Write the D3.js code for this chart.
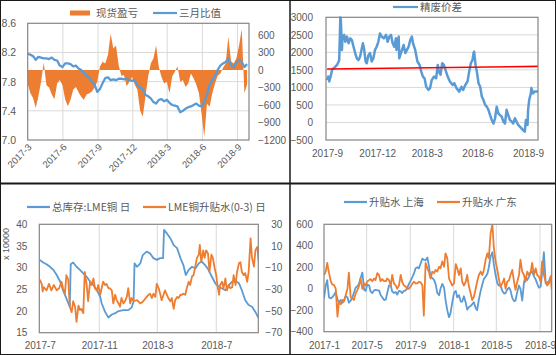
<!DOCTYPE html>
<html><head><meta charset="utf-8">
<script src="https://cdn.jsdelivr.net/npm/d3@7"></script>
<style>
body{margin:0;background:#fff;}
svg{display:block;font-family:"Liberation Sans","Noto Sans CJK SC",sans-serif;}
</style></head><body>
<svg id="c" width="556" height="355"></svg>
<script>
// ---------- Panel 1: 现货盈亏 / 三月比值 (weekly, days since start) ----------
const p1Start = "2017-03-01";
const p1Days = [0,7,14,21,28,35,42,49,56,63,70,77,84,91,98,105,112,119,126,133,140,147,154,161,168,175,182,189,196,203,210,217,224,231,238,245,252,259,266,273,280,287,294,301,308,315,322,329,336,343,350,357,364,371,378,385,392,399,406,413,420,427,434,441,448,455,462,469,476,483,490,497,504,511,518,525,532,539,546,553,560,567,574];
const ratioValues = [8.18,8.17,8.15,8.10,8.14,8.13,8.12,8.12,8.11,8.13,
 8.10,8.09,8.02,8.00,8.05,8.05,8.04,8.01,8.02,7.98,
 7.96,7.92,7.88,7.86,7.80,7.76,7.66,7.70,7.78,7.85,
 7.86,7.82,7.83,7.82,7.84,7.84,7.83,7.84,7.82,7.81,
 7.82,7.75,7.72,7.69,7.62,7.60,7.57,7.52,7.50,7.55,
 7.56,7.53,7.55,7.51,7.48,7.47,7.46,7.38,7.40,7.43,
 7.45,7.46,7.48,7.50,7.47,7.46,7.52,7.62,7.76,7.82,
 7.88,7.96,8.02,8.05,8.07,8.12,8.02,8.00,8.06,8.10,
 8.07,8.00,8.04];
const pnlValues = [-230,-400,-480,-650,-450,-200,130,-260,-300,-420,
 -500,-230,-170,-260,-500,-620,-510,-340,-290,-380,
 -460,-510,-420,-400,-370,-300,-200,60,140,110,
 260,620,370,420,80,-100,-90,-280,-200,-120,
 -250,-340,-690,-800,-460,-120,110,200,420,50,
 -120,-230,-200,-400,-110,-30,60,-200,-170,-290,
 -230,-60,-140,-250,-400,-750,-1150,-580,-630,-400,
 -230,-100,-60,40,110,570,150,110,200,420,
 700,-400,-250];
const p1LeftTicks = [7.0,7.4,7.8,8.2,8.6];
const p1RightTicks = [-1200,-900,-600,-300,0,300,600];

// ---------- Panel 2: 精废价差 ----------
const p2Start = "2017-09-01";
const p2Days = [0,2,4,7,9,12,15,18,21,22,24,25,27,28,31,33,36,39,42,45,48,51,54,57,60,65,67,70,72,75,78,81,84,87,90,93,96,99,103,107,110,113,116,119,122,125,126,130,131,134,139,142,145,148,151,154,156,160,164,168,171,174,177,180,184,187,190,194,198,201,203,206,209,212,216,219,223,228,231,235,240,244,247,251,255,258,261,264,266,267,270,272,275,278,281,284,287,290,293,296,299,302,305,308,311,314,317,320,323,326,329,332,335,338,341,344,347,350,353,356,359,361,364,365,367,370,371,374,377,383];
const spreadValues = [1210,1310,1170,1350,1500,1550,1590,1640,1740,1780,3000,2920,2070,2450,2500,2300,2450,2260,2400,2350,2160,1980,1830,1780,1880,2260,2120,1740,1690,1920,1980,1740,1830,2070,2160,2300,2540,2450,2400,2500,2300,2450,2500,2260,2160,2400,2070,2450,1830,1980,2210,1980,2070,2160,2350,2450,2260,2070,1740,1640,1450,1310,1260,1020,930,980,1210,1310,1260,1640,1450,1360,1690,1640,1450,1310,1170,1070,1120,980,880,1020,930,1070,1170,1450,1690,1780,1980,2020,1590,1450,1120,1020,740,640,500,450,360,210,70,-30,120,450,260,210,170,30,-30,360,210,70,30,-30,120,30,-70,-120,-170,-220,-260,70,-70,360,640,830,980,830,880,880];
const trendStart = 1525, trendEnd = 1600;
const p2Ticks = [-500,0,500,1000,1500,2000,2500,3000];

// ---------- Panel 3: LME ----------
const p3Start = "2017-07-01";
const stockDays = [0,7,14,21,28,35,42,48,55,59,62,64,69,76,83,90,97,104,111,118,125,128,135,142,149,156,163,173,183,190,194,196,201,208,213,221,228,235,242,249,255,257,263,270,277,284,291,297,302,308,315,322,329,335,342,349,356,363,370,377,384,391,398,405,412,418,425,432,439,446,452];
const stockValues = [31.8,31.2,30.8,30.2,29.5,28.3,26.8,24.8,22.9,21.8,21.0,30.8,31.2,30.2,29.5,28.7,27.9,26.8,26.0,24.8,23.3,21.8,19.8,18.5,19.2,19.5,20.0,20.2,20.2,20.8,22.2,31.0,30.2,31.0,32.9,33.7,33.3,32.2,31.8,32.2,32.2,38.7,37.9,36.8,35.2,34.5,32.2,30.6,28.3,29.5,30.2,29.8,31.0,31.4,30.6,29.5,27.9,26.4,25.6,25.2,24.8,26.0,26.8,26.9,26.4,24.8,22.5,21.4,21.0,19.8,18.5];
const lmeDays = [0,4,6,8,14,19,24,29,35,40,45,48,52,55,59,62,66,69,73,76,80,83,86,90,93,97,100,104,107,111,114,118,121,125,128,131,135,138,142,145,149,152,156,159,163,166,169,173,176,180,183,187,190,194,201,208,214,221,225,228,232,235,239,242,246,249,252,256,259,263,266,270,273,277,280,284,287,291,294,297,301,304,308,311,315,318,322,325,329,331,334,338,341,344,348,351,355,358,362,365,368,371,373,377,380,384,387,391,394,398,401,405,408,412,415,418,422,425,429,432,436,439,443,446,450,453];
const lmeValues = [-21,-25,-32,-28,-31,-25,-31,-26,-31,-29,-23,-29,-34,-17,-21,-46,-51,-41,-46,-60,-45,-49,-48,-52,-14,-26,-41,-23,-26,-20,-29,-31,-26,-35,-29,-23,-26,-25,-29,-29,-31,-43,-35,-40,-43,-46,-38,-43,-41,-37,-29,-43,-38,-41,-40,-43,-41,-37,-35,-34,-38,-34,-37,-25,-29,-34,-40,-35,-31,-35,-38,-41,-38,-48,-40,-37,-38,-35,-35,-34,-35,-29,-23,-26,-18,-17,-8,-1,2,11,-5,6,-1,6,3,-14,2,-1,-11,-17,-28,-35,-26,-23,-29,-20,-31,-26,-29,-28,-17,-26,-14,-6,-5,-14,-17,-15,-23,-14,17,-1,-9,6,9,-5];
const p3LeftTicks = [15,20,25,30,35,40];
const p3RightTicks = [-70,-50,-30,-10,10,30];

// ---------- Panel 4: 升贴水 上海 / 广东 ----------
const p4Start = "2017-01-01";
const p4Days = [0,5,9,14,19,23,28,33,38,42,47,52,56,61,66,70,75,80,84,89,94,98,103,108,113,117,122,127,131,136,141,145,150,155,159,164,169,174,178,183,188,192,197,202,206,211,216,220,225,230,235,239,244,249,253,258,263,267,272,277,281,286,291,295,300,305,310,314,319,324,328,333,338,342,347,352,356,361,366,371,375,380,385,389,394,399,403,408,413,417,422,427,431,436,441,446,450,455,460,464,469,474,478,483,488,492,497,502,507,511,516,521,525,530,535,539,544,549,553,558,563,567,572,577,582,586,591,596,600,605,610,614,619,624,628,633,638,641];
const shanghaiValues = [-90,30,80,-80,-90,-80,-60,-30,-100,-130,
 -105,-130,-110,-70,-80,-130,-110,-80,-40,10,
 25,40,100,150,-10,-20,40,30,-25,-40,
 -15,-10,-15,-15,-55,-80,-105,-100,-40,30,
 30,-25,-40,-30,-55,-20,-25,-40,-20,-15,
 10,45,75,110,140,190,200,190,235,280,
 270,265,290,220,110,100,80,45,-40,-60,
 0,45,10,-100,-200,-265,-230,-130,-40,-20,
 -80,-60,-120,-120,-70,-130,-195,-170,-160,-145,
 -125,-180,-200,-100,-20,45,90,115,140,200,
 300,340,230,130,50,30,30,-20,-45,-40,
 -5,10,-15,-85,-115,-110,-30,30,0,-110,
 60,110,80,110,150,160,115,85,50,10,
 20,150,340,50,55,70,110,128];
const guangdongValues = [128,160,240,150,70,40,35,0,-260,-120,
 -145,-105,-120,-60,0,150,-75,-90,-105,-45,
 -10,20,95,0,50,30,70,80,90,70,
 95,80,145,128,70,90,70,70,95,80,
 30,128,50,30,0,30,128,65,30,20,
 0,0,20,50,65,50,50,65,60,30,
 -250,240,190,160,95,160,145,175,160,205,
 190,255,205,330,285,95,65,30,50,230,
 190,128,190,65,30,65,128,20,-45,-105,
 -75,0,65,128,160,128,175,270,330,285,
 515,600,390,255,175,95,20,50,95,0,
 65,80,128,175,65,-10,65,128,270,160,
 128,65,160,128,160,240,128,190,128,112,
 65,255,128,65,30,50,112,-10];
const p4Ticks = [-400,-200,0,200,400,600];

// ---------- drawing ----------
const svg = d3.select("#c");
const GRID = "#d9d9d9", FRAME = "#868686", TXT = "#595959", BLUE = "#5b9bd5", ORANGE = "#ed7d31";
const FONT = "'Liberation Sans','Noto Sans CJK SC',sans-serif";
const CJK = "'Noto Sans CJK SC',sans-serif";
const parse = d3.timeParse("%Y-%m-%d");
const at = (start, d) => d3.timeDay.offset(parse(start), d);
const fmtM = d => d.getFullYear() + "-" + (d.getMonth() + 1);
const fmtInt = d3.format("d");
const defs = svg.append("defs");
let clipN = 0;
function clipRect(x0, y0, x1, y1) {
  const id = "clip" + (clipN++);
  defs.append("clipPath").attr("id", id).append("rect")
    .attr("x", x0).attr("y", y0).attr("width", x1 - x0).attr("height", y1 - y0);
  return "url(#" + id + ")";
}
function styleAxis(g, size) {
  g.select(".domain").remove();
  g.selectAll(".tick line").remove();
  g.selectAll("text").attr("fill", TXT).style("font-size", (size || 10) + "px").style("font-family", FONT);
}
function vgrid(xs, ticks, y0, y1) {
  svg.append("g").selectAll("line").data(ticks).join("line")
    .attr("x1", d => xs(d)).attr("x2", d => xs(d)).attr("y1", y0).attr("y2", y1)
    .attr("stroke", GRID).attr("stroke-width", 1);
}
function hgrid(ys, ticks, x0, x1) {
  svg.append("g").selectAll("line").data(ticks).join("line")
    .attr("y1", d => ys(d)).attr("y2", d => ys(d)).attr("x1", x0).attr("x2", x1)
    .attr("stroke", GRID).attr("stroke-width", 1);
}
function frame(x0, y0, x1, y1) {
  svg.append("rect").attr("x", x0).attr("y", y0).attr("width", x1 - x0).attr("height", y1 - y0)
    .attr("fill", "none").attr("stroke", FRAME).attr("stroke-width", 1.2);
}
function legendLine(x, y, color, label, w) {
  svg.append("line").attr("x1", x).attr("x2", x + (w || 24)).attr("y1", y).attr("y2", y)
    .attr("stroke", color).attr("stroke-width", 2.2);
  svg.append("text").attr("x", x + (w || 24) + 2).attr("y", y).attr("dy", "0.35em")
    .attr("fill", TXT).style("font-size", "10.5px").style("font-family", CJK).text(label);
}

// ===== Panel 1 =====
{
  const X0 = 27.7, X1 = 249, Y0 = 23.3, Y1 = 140;
  const xs = d3.scaleTime().domain([parse("2017-03-01"), parse("2018-10-01")]).range([X0, X1]);
  const yl = d3.scaleLinear().domain([7.0, 8.6]).range([Y1, Y0]);
  const yr = d3.scaleLinear().domain([-1200, 800]).range([Y1, Y0]);
  const months = d3.timeMonth.range(parse("2017-03-01"), parse("2018-10-01"), 3);
  hgrid(yl, [7.4, 7.8, 8.2], X0, X1);
  vgrid(xs, months.slice(1), Y0, Y1);
  const data = p1Days.map((d, i) => ({ date: at(p1Start, d), r: ratioValues[i], p: pnlValues[i] }));
  const cp = clipRect(X0, Y0, X1, Y1);
  svg.append("path").datum(data).attr("clip-path", cp)
    .attr("d", d3.area().x(d => xs(d.date)).y0(yr(0)).y1(d => yr(d.p)))
    .attr("fill", ORANGE);
  svg.append("path").datum(data).attr("clip-path", cp)
    .attr("d", d3.line().x(d => xs(d.date)).y(d => yl(d.r)))
    .attr("fill", "none").attr("stroke", BLUE).attr("stroke-width", 2.3).attr("stroke-linejoin", "round");
  frame(X0, Y0, X1, Y1);
  const gl = svg.append("g").attr("transform", `translate(${X0},0)`)
    .call(d3.axisLeft(yl).tickValues(p1LeftTicks).tickSize(0).tickPadding(11.5).tickFormat(d3.format(".1f")));
  styleAxis(gl, 10.5);
  const gr = svg.append("g").attr("transform", `translate(${X1},0)`)
    .call(d3.axisRight(yr).tickValues(p1RightTicks).tickSize(0).tickPadding(9).tickFormat(fmtInt));
  styleAxis(gr, 10);
  const gx = svg.append("g").attr("transform", `translate(0,${Y1})`)
    .call(d3.axisBottom(xs).tickValues(months).tickSize(0).tickFormat(fmtM));
  styleAxis(gx, 9.5);
  gx.selectAll("text").attr("x", -2.5).attr("y", 5).attr("dy", "0.35em")
    .attr("text-anchor", "end").attr("transform", "rotate(-45)");
  // legend
  svg.append("rect").attr("x", 70).attr("y", 10.5).attr("width", 20).attr("height", 5).attr("fill", ORANGE);
  svg.append("text").attr("x", 96).attr("y", 13).attr("dy", "0.35em").attr("fill", TXT)
    .style("font-size", "10.5px").style("font-family", CJK).text("现货盈亏");
  legendLine(153, 13, BLUE, "三月比值");
}

// ===== Panel 2 =====
{
  const X0 = 326, X1 = 538, Y0 = 17.3, Y1 = 140;
  const xs = d3.scaleTime().domain([parse("2017-08-30"), parse("2018-09-19")]).range([X0, X1]);
  const ys = d3.scaleLinear().domain([-500, 3000]).range([Y1, Y0]);
  const months = d3.timeMonth.range(parse("2017-09-01"), parse("2018-09-02"), 3);
  hgrid(ys, [0, 500, 1000, 1500, 2000, 2500], X0, X1);
  const data = p2Days.map((d, i) => ({ date: at(p2Start, d), v: spreadValues[i] }));
  const cp = clipRect(X0, Y0 - 1, X1, Y1);
  svg.append("path").datum(data).attr("clip-path", cp)
    .attr("d", d3.line().x(d => xs(d.date)).y(d => ys(d.v)))
    .attr("fill", "none").attr("stroke", BLUE).attr("stroke-width", 2.5).attr("stroke-linejoin", "round");
  const trend = [{ date: at(p2Start, p2Days[0]), v: trendStart }, { date: at(p2Start, p2Days[p2Days.length - 1]), v: trendEnd }];
  svg.append("path").datum(trend)
    .attr("d", d3.line().x(d => xs(d.date)).y(d => ys(d.v)))
    .attr("stroke", "#ff0000").attr("stroke-width", 1.6).attr("fill", "none");
  frame(X0, Y0, X1, Y1);
  const gl = svg.append("g").attr("transform", `translate(${X0},0)`)
    .call(d3.axisLeft(ys).tickValues(p2Ticks).tickSize(0).tickPadding(13).tickFormat(fmtInt));
  styleAxis(gl, 10);
  const gx = svg.append("g").attr("transform", `translate(0,${Y1})`)
    .call(d3.axisBottom(xs).tickValues(months).tickSize(0).tickPadding(10).tickFormat(fmtM));
  styleAxis(gx, 10);
  legendLine(393, 7, BLUE, "精废价差", 25);
}

// ===== Panel 3 =====
{
  const X0 = 39.3, X1 = 258.3, Y0 = 224.3, Y1 = 332.7;
  const xs = d3.scaleTime().domain([parse("2017-06-30"), parse("2018-09-26")]).range([X0, X1]);
  const yl = d3.scaleLinear().domain([15, 40]).range([Y1, Y0]);
  const yr = d3.scaleLinear().domain([-70, 30]).range([Y1, Y0]);
  const months = d3.timeMonth.range(parse("2017-07-01"), parse("2018-07-02"), 4);
  vgrid(xs, months.slice(1), Y0, Y1);
  const cp = clipRect(X0, Y0, X1, Y1);
  const sdata = stockDays.map((d, i) => ({ date: at(p3Start, d), v: stockValues[i] }));
  const ldata = lmeDays.map((d, i) => ({ date: at(p3Start, d), v: lmeValues[i] }));
  svg.append("path").datum(sdata).attr("clip-path", cp)
    .attr("d", d3.line().x(d => xs(d.date)).y(d => yl(d.v)))
    .attr("fill", "none").attr("stroke", BLUE).attr("stroke-width", 1.8).attr("stroke-linejoin", "round");
  svg.append("path").datum(ldata).attr("clip-path", cp)
    .attr("d", d3.line().x(d => xs(d.date)).y(d => yr(d.v)))
    .attr("fill", "none").attr("stroke", ORANGE).attr("stroke-width", 1.8).attr("stroke-linejoin", "round");
  frame(X0, Y0, X1, Y1);
  const gl = svg.append("g").attr("transform", `translate(${X0},0)`)
    .call(d3.axisLeft(yl).tickValues(p3LeftTicks).tickSize(0).tickPadding(12));
  styleAxis(gl, 10);
  const gr = svg.append("g").attr("transform", `translate(${X1},0)`)
    .call(d3.axisRight(yr).tickValues(p3RightTicks).tickSize(0));
  styleAxis(gr, 10);
  gr.selectAll("text").attr("text-anchor", "end").attr("x", 24);
  const gx = svg.append("g").attr("transform", `translate(0,${Y1})`)
    .call(d3.axisBottom(xs).tickValues(months).tickSize(0).tickPadding(9).tickFormat(fmtM));
  styleAxis(gx, 10);
  svg.append("text").attr("transform", "translate(9,244) rotate(-90)").attr("text-anchor", "middle")
    .attr("fill", TXT).style("font-size", "9px").style("font-family", FONT).text("x 10000");
  legendLine(27, 207, BLUE, "总库存:LME铜 日", 23);
  legendLine(143, 207, ORANGE, "LME铜升贴水(0-3) 日", 23);
}

// ===== Panel 4 =====
{
  const X0 = 324, X1 = 551.7, Y0 = 224.3, Y1 = 331.7;
  const xs = d3.scaleTime().domain([parse("2017-01-01"), parse("2018-10-04")]).range([X0, X1]);
  const ys = d3.scaleLinear().domain([-400, 600]).range([Y1, Y0]);
  const months = d3.timeMonth.range(parse("2017-01-01"), parse("2018-09-02"), 4);
  vgrid(xs, months.slice(1), Y0, Y1);
  const cp = clipRect(X0, Y0, X1, Y1);
  const data = p4Days.map((d, i) => ({ date: at(p4Start, d), s: shanghaiValues[i], g: guangdongValues[i] }));
  svg.append("path").datum(data).attr("clip-path", cp)
    .attr("d", d3.line().x(d => xs(d.date)).y(d => ys(d.s)))
    .attr("fill", "none").attr("stroke", BLUE).attr("stroke-width", 1.8).attr("stroke-linejoin", "round");
  svg.append("path").datum(data).attr("clip-path", cp)
    .attr("d", d3.line().x(d => xs(d.date)).y(d => ys(d.g)))
    .attr("fill", "none").attr("stroke", ORANGE).attr("stroke-width", 1.8).attr("stroke-linejoin", "round");
  frame(X0, Y0, X1, Y1);
  const gl = svg.append("g").attr("transform", `translate(${X0},0)`)
    .call(d3.axisLeft(ys).tickValues(p4Ticks).tickSize(0).tickPadding(11).tickFormat(fmtInt));
  styleAxis(gl, 10);
  const gx = svg.append("g").attr("transform", `translate(0,${Y1})`)
    .call(d3.axisBottom(xs).tickValues(months).tickSize(0).tickPadding(10).tickFormat(fmtM));
  styleAxis(gx, 10);
  legendLine(344, 202, BLUE, "升贴水 上海", 23);
  legendLine(437, 202, ORANGE, "升贴水 广东", 23);
}

// ===== panel borders =====
const B = svg.append("g").attr("stroke", "#1a1a1a").attr("fill", "none");
B.append("rect").attr("x", 0.5).attr("y", 0.5).attr("width", 555).attr("height", 354).attr("stroke-width", 1);
B.append("line").attr("x1", 290).attr("x2", 290).attr("y1", 0).attr("y2", 355).attr("stroke-width", 1.5);
B.append("line").attr("x1", 0).attr("x2", 556).attr("y1", 183.5).attr("y2", 183.5).attr("stroke-width", 2);
</script></body></html>
